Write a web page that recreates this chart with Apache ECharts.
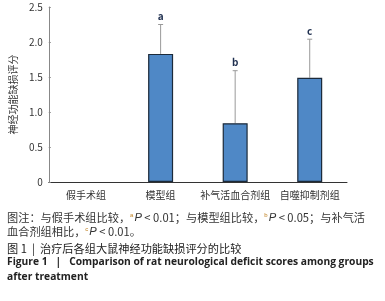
<!DOCTYPE html>
<html><head><meta charset="utf-8">
<script src="https://cdn.jsdelivr.net/npm/echarts@6/dist/echarts.min.js"></script>
<style>html,body{margin:0;padding:0;background:#fff}#c{width:385px;height:301px}</style>
</head><body><div id="c"></div>
<script>
var categories = ['假手术组', '模型组', '补气活血合剂组', '自噬抑制剂组'];
var means = [0, 1.83, 0.84, 1.49];
var errUpper = [0, 2.25, 1.59, 2.04];
var sigLetters = ['', 'a', 'b', 'c'];
var yTicks = [0, 0.5, 1.0, 1.5, 2.0, 2.5];

var FONT = '"Noto Sans CJK SC", "Noto Sans", sans-serif';
var chart = echarts.init(document.getElementById('c'), null, {renderer: 'canvas'});
var errData = categories.map(function (c, i) { return [i, means[i], errUpper[i], sigLetters[i]]; });
var barData = means.map(function (v) {
  return v === 0 ? {value: v, itemStyle: {borderWidth: 0, opacity: 0}} : v;
});

chart.setOption({
  animation: false,
  grid: {left: 43, right: 38, top: 7, bottom: 119},
  xAxis: {
    type: 'category', data: categories,
    axisLine: {lineStyle: {color: '#333', width: 1}},
    axisTick: {show: false},
    axisLabel: {color: '#333', fontSize: 10, margin: 8, fontFamily: FONT, interval: 0}
  },
  yAxis: {
    type: 'value', min: yTicks[0], max: yTicks[yTicks.length - 1], interval: 0.5,
    name: '神经功能缺损评分', nameLocation: 'middle', nameGap: 27,
    nameTextStyle: {color: '#333', fontSize: 10, fontFamily: FONT},
    axisLine: {show: true, lineStyle: {color: '#888'}},
    axisTick: {show: true, inside: true, length: 2, lineStyle: {color: '#888'}},
    splitLine: {show: false},
    axisLabel: {color: '#333', fontSize: 10, margin: 6, fontFamily: FONT,
      formatter: function (v) { return v === 0 ? '0' : v.toFixed(1); }}
  },
  series: [{
    type: 'bar', data: barData, barWidth: 25,
    itemStyle: {color: '#4f88c6', borderColor: '#1c2a3a', borderWidth: 1.2}
  }, {
    type: 'custom', data: errData, z: 1,
    renderItem: function (params, api) {
      var x = api.value(0);
      if (api.value(2) <= 0) return null;
      var p0 = api.coord([x, api.value(1)]);
      var p1 = api.coord([x, api.value(2)]);
      var st = {stroke: '#999', lineWidth: 1};
      return {type: 'group', children: [
        {type: 'line', shape: {x1: p0[0], y1: p0[1], x2: p1[0], y2: p1[1]}, style: st},
        {type: 'line', shape: {x1: p1[0] - 2.5, y1: p1[1], x2: p1[0] + 2.5, y2: p1[1]}, style: st},
        {type: 'text', x: p1[0], y: p1[1] - 3, style: {text: sigLetters[params.dataIndex], fill: '#1f2f4f',
          fontSize: 10, fontWeight: 'bold', fontFamily: FONT, align: 'center', verticalAlign: 'bottom'}}
      ]};
    }
  }],
  graphic: [
    {type: 'text', left: 7, top: 212, style: {
      text: '图注：与假手术组比较，{s|a}{i|P} < 0.01；与模型组比较，{s|b}{i|P} < 0.05；与补气活',
      fontSize: 11.2, fill: '#333', fontFamily: FONT,
      rich: {s: {fontSize: 6, verticalAlign: 'top', padding: [0,1,6,0], fill: '#c08020'}, i: {fontStyle: 'italic', fontSize: 11.2, fill:'#333'}}
    }},
    {type: 'text', left: 7, top: 226, style: {
      text: '血合剂组相比，{s|c}{i|P} < 0.01。',
      fontSize: 11.2, fill: '#333', fontFamily: FONT,
      rich: {s: {fontSize: 6, verticalAlign: 'top', padding: [0,1,6,0], fill: '#c08020'}, i: {fontStyle: 'italic', fontSize: 11.2, fill:'#333'}}
    }},
    {type: 'text', left: 7, top: 243, style: {
      text: '图 1  |  治疗后各组大鼠神经功能缺损评分的比较',
      fontSize: 11.2, fill: '#222', fontFamily: FONT
    }},
    {type: 'text', left: 7, top: 257, style: {
      text: 'Figure 1   |   Comparison of rat neurological deficit scores among groups',
      fontSize: 10.25, fontWeight: 'bold', fill: '#222', fontFamily: '"Open Sans", "Noto Sans", sans-serif'
    }},
    {type: 'text', left: 7, top: 272, style: {
      text: 'after treatment',
      fontSize: 10.25, fontWeight: 'bold', fill: '#222', fontFamily: '"Open Sans", "Noto Sans", sans-serif'
    }}
  ]
});
</script></body></html>
